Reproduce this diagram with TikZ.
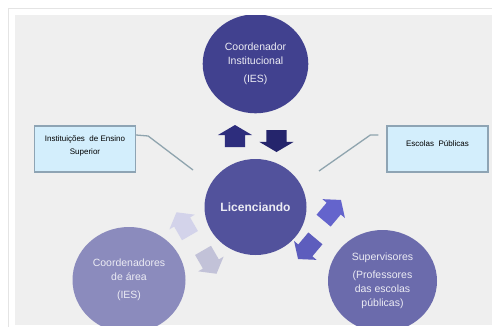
\documentclass[tikz,border=0pt]{standalone}
\usepackage{fontspec}
\setmainfont{Liberation Sans}
\usetikzlibrary{shapes.geometric, shapes.arrows, positioning}

\definecolor{fundo}{HTML}{EFEFEF}
\definecolor{moldura}{HTML}{E4E4E4}
\definecolor{corTopo}{HTML}{41418F}
\definecolor{corCentro}{HTML}{52529C}
\definecolor{corArea}{HTML}{8B8BBD}
\definecolor{corSuper}{HTML}{6B6BAC}
\definecolor{textoBola}{HTML}{ECECF4}
\definecolor{caixaFundo}{HTML}{D3EEFC}
\definecolor{caixaBorda}{HTML}{8EA4B4}
\definecolor{ligaCor}{HTML}{8FA4AE}
\definecolor{setaSobe}{HTML}{2D2D7D}
\definecolor{setaDesce}{HTML}{25256C}
\definecolor{setaClara}{HTML}{D3D3EA}
\definecolor{setaCinza}{HTML}{C2C2D8}
\definecolor{setaViva}{HTML}{6464CC}
\definecolor{setaMedia}{HTML}{5D5DBD}

\begin{document}
\begin{tikzpicture}[x=1pt, y=-1pt,
  bola/.style={ellipse, inner sep=0pt, align=center, text=textoBola,
    font=\fontsize{10.5}{14}\selectfont},
  caixa/.style={draw=caixaBorda, fill=caixaFundo, line width=1.3pt,
    minimum width=101pt, minimum height=46pt, inner sep=0pt,
    align=center, font=\fontsize{8}{12.5}\selectfont},
  ligacao/.style={draw=ligaCor, line width=1.3pt},
  % setas de bloco
  seta/.style={single arrow, draw=none, inner xsep=0pt, inner ysep=10pt,
    minimum height=22pt, single arrow head extend=7pt,
    single arrow tip angle=119},
  setinha/.style={single arrow, draw=none, inner xsep=0pt, inner ysep=9pt,
    minimum height=27pt, single arrow head extend=5.5pt,
    single arrow tip angle=105}]

  \useasboundingbox (0,0) rectangle (492,327);
  \fill[white] (0,0) rectangle (492,327);
  \draw[moldura, line width=0.8pt] (8,327) -- (8,8) -- (492,8);
  \fill[fundo] (15,15) rectangle (492,325);

  % circulos (cortados pela area cinza)
  \begin{scope}
    \clip (15,15) rectangle (492,325);
    \node[bola, fill=corTopo, minimum width=105.6pt, minimum height=99pt]
      (topo) at (255.5,63.8) {Coordenador\\Institucional\\[4pt](IES)};
    \node[bola, fill=corArea, minimum width=113pt, minimum height=106pt]
      (area) at (129,280) {Coordenadores\\de área\\[4pt](IES)};
    \node[bola, fill=corSuper, minimum width=109pt, minimum height=102pt]
      (super) at (382.5,281) {Supervisores\\[4pt](Professores\\das escolas\\públicas)};
  \end{scope}
  \node[bola, fill=corCentro, minimum width=102pt, minimum height=96pt,
    font=\fontsize{12}{14}\selectfont\bfseries] (centro) at (255.5,207) {Licenciando};

  % caixas laterais
  \node[caixa, text depth=8pt] (ies) at (85,149) {Instituições~ de Ensino\\Superior};
  \node[caixa, text depth=10pt] (escolas) at (437.5,149) {Escolas~ Públicas};

  \coordinate (iesPonta) at (193,170);
  \coordinate (escPonta) at (319,171);
  \draw[ligacao] ([yshift=14pt]ies.east) -- ++(12,1) -- (iesPonta);
  \draw[ligacao] ([xshift=-8pt,yshift=14pt]escolas.west) -- ++(-8,0) -- (escPonta);

  % pares de setas
  \node[seta, fill=setaSobe, rotate=90] (sobe) at (235,139) {};
  \node[seta, fill=setaDesce, rotate=-90] (desce) at (276.5,138) {};
  \node[setinha, fill=setaClara, rotate=120] (areaSobe) at (185,227) {};
  \node[setinha, fill=setaCinza, rotate=-60] (areaDesce) at (208,259) {};
  \node[setinha, fill=setaViva, rotate=50] (superSobe) at (330,213) {};
  \node[setinha, fill=setaMedia, rotate=-130] (superDesce) at (309,246) {};
\end{tikzpicture}
\end{document}
